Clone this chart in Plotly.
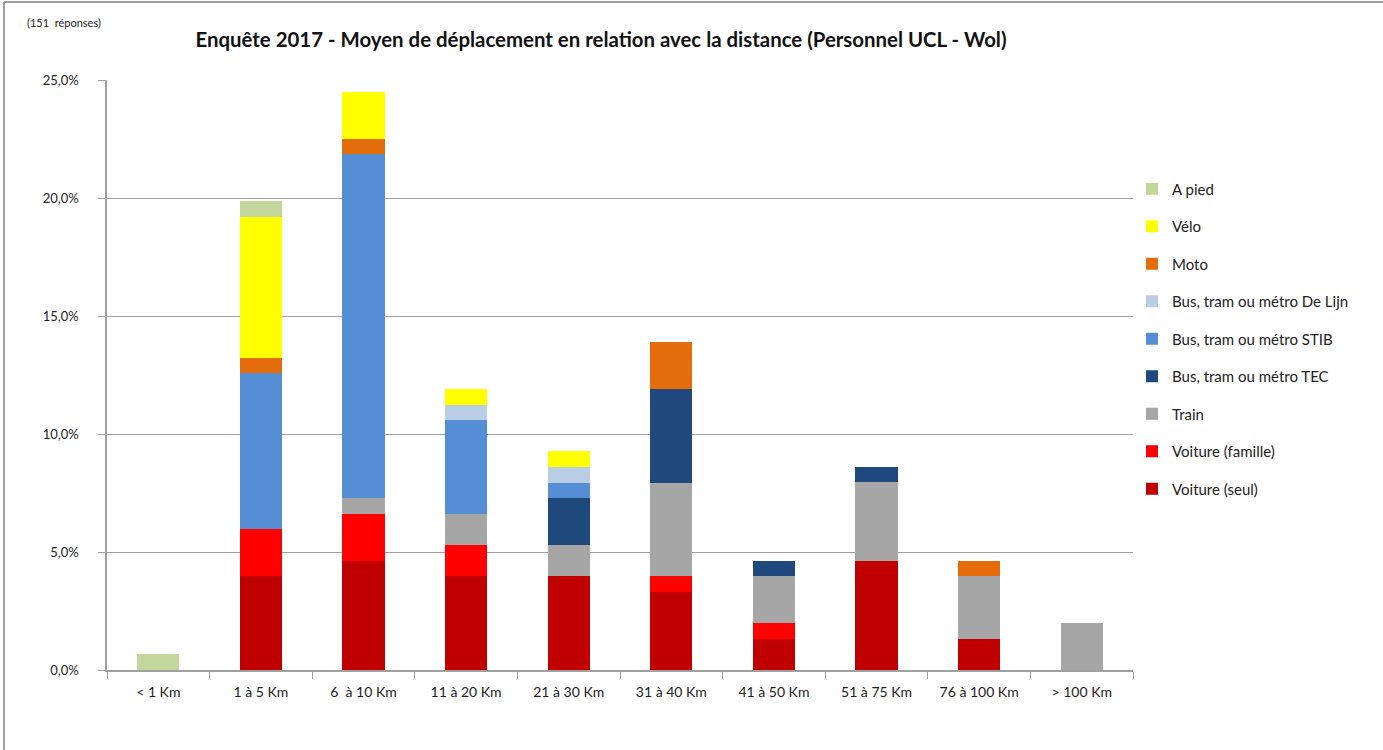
import plotly.graph_objects as go

categories = ["< 1 Km", "1 à 5 Km", "6  à 10 Km", "11 à 20 Km", "21 à 30 Km",
              "31 à 40 Km", "41 à 50 Km", "51 à 75 Km", "76 à 100 Km", "> 100 Km"]

voiture_seul    = [0.00, 3.97, 4.64, 3.97, 3.97, 3.31, 1.32, 4.64, 1.32, 0.00]
voiture_famille = [0.00, 1.99, 1.99, 1.32, 0.00, 0.66, 0.66, 0.00, 0.00, 0.00]
train           = [0.00, 0.00, 0.66, 1.32, 1.32, 3.97, 1.99, 3.31, 2.65, 1.99]
bus_tec         = [0.00, 0.00, 0.00, 0.00, 1.99, 3.97, 0.66, 0.66, 0.00, 0.00]
bus_stib        = [0.00, 6.62, 14.57, 3.97, 0.66, 0.00, 0.00, 0.00, 0.00, 0.00]
bus_delijn      = [0.00, 0.00, 0.00, 0.66, 0.66, 0.00, 0.00, 0.00, 0.00, 0.00]
moto            = [0.00, 0.66, 0.66, 0.00, 0.00, 1.99, 0.00, 0.00, 0.66, 0.00]
velo            = [0.00, 5.96, 1.99, 0.66, 0.66, 0.00, 0.00, 0.00, 0.00, 0.00]
a_pied          = [0.66, 0.66, 0.00, 0.00, 0.00, 0.00, 0.00, 0.00, 0.00, 0.00]

series = [
    ("Voiture (seul)", voiture_seul, "#C00000"),
    ("Voiture (famille)", voiture_famille, "#FF0000"),
    ("Train", train, "#A6A6A6"),
    ("Bus, tram ou métro TEC", bus_tec, "#1F497D"),
    ("Bus, tram ou métro STIB", bus_stib, "#558ED5"),
    ("Bus, tram ou métro De Lijn", bus_delijn, "#B9CDE5"),
    ("Moto", moto, "#E46C0A"),
    ("Vélo", velo, "#FFFF00"),
    ("A pied", a_pied, "#C3D69B"),
]

FONT = "Lato, 'Open Sans', sans-serif"

fig = go.Figure()
n = len(series)
for i, (name, vals, col) in enumerate(series):
    fig.add_trace(go.Bar(
        name=name, x=categories, y=vals,
        marker=dict(color=col, line=dict(width=0)),
        legendgroup=f"g{n - i:02d}",
        legendrank=100 + (n - i),
    ))

L, R, T, B = 107, 250, 80, 80
W, H = 1383, 750
pw, ph = W - L - R, H - T - B

fig.update_layout(
    width=W, height=H,
    barmode="stack",
    bargap=0.59,
    separators=", ",
    paper_bgcolor="white",
    plot_bgcolor="white",
    margin=dict(l=L, r=R, t=T, b=B, autoexpand=False),
    font=dict(family=FONT, size=13, color="#222222"),
    title=dict(
        text="<b>Enquête 2017 - Moyen de déplacement en relation avec la distance (Personnel UCL - Wol)</b>",
        x=601 / W, xanchor="center", xref="container",
        y=1 - 40 / H, yanchor="middle", yref="container",
        font=dict(family=FONT, size=20.4, color="#111111"),
    ),
    legend=dict(
        traceorder="grouped",
        tracegroupgap=15,
        x=(1132 - L) / pw, xanchor="left",
        y=(H - B - 339) / ph, yanchor="middle",
        font=dict(family=FONT, size=15, color="#222222"),
        itemwidth=30,
        bgcolor="rgba(0,0,0,0)",
    ),
    xaxis=dict(
        showgrid=False,
        showline=True, linecolor="#A0A0A0", linewidth=1.5,
        ticks="outside", tickson="boundaries", ticklen=7, tickcolor="#A0A0A0",
        ticklabelstandoff=8,
        tickfont=dict(family=FONT, size=14, color="#222222"),
    ),
    yaxis=dict(
        range=[0, 25], dtick=5,
        tickformat=".1f", ticksuffix="%",
        showgrid=True, gridcolor="#A0A0A0", gridwidth=1,
        showline=True, linecolor="#A0A0A0", linewidth=1.5,
        ticks="outside", ticklen=7, tickcolor="#A0A0A0",
        ticklabelstandoff=17,
        tickfont=dict(family=FONT, size=13, color="#222222"),
        zeroline=False,
    ),
    annotations=[dict(
        text="(151  réponses)", xref="paper", yref="paper",
        x=(25 - L) / pw, y=1 + (T - 22) / ph, xanchor="left", yanchor="middle",
        showarrow=False, font=dict(family=FONT, size=11, color="#222222"),
    )],
    shapes=[
        dict(type="line", xref="paper", yref="paper",
             x0=(4 - L) / pw, x1=(4 - L) / pw, y0=1 + (T - 2) / ph, y1=-B / ph,
             line=dict(color="#A0A0A0", width=2)),
        dict(type="line", xref="paper", yref="paper",
             x0=(4 - L) / pw, x1=(W - L) / pw, y0=1 + (T - 2) / ph, y1=1 + (T - 2) / ph,
             line=dict(color="#A0A0A0", width=2)),
    ],
)

fig.write_html("out.html")
